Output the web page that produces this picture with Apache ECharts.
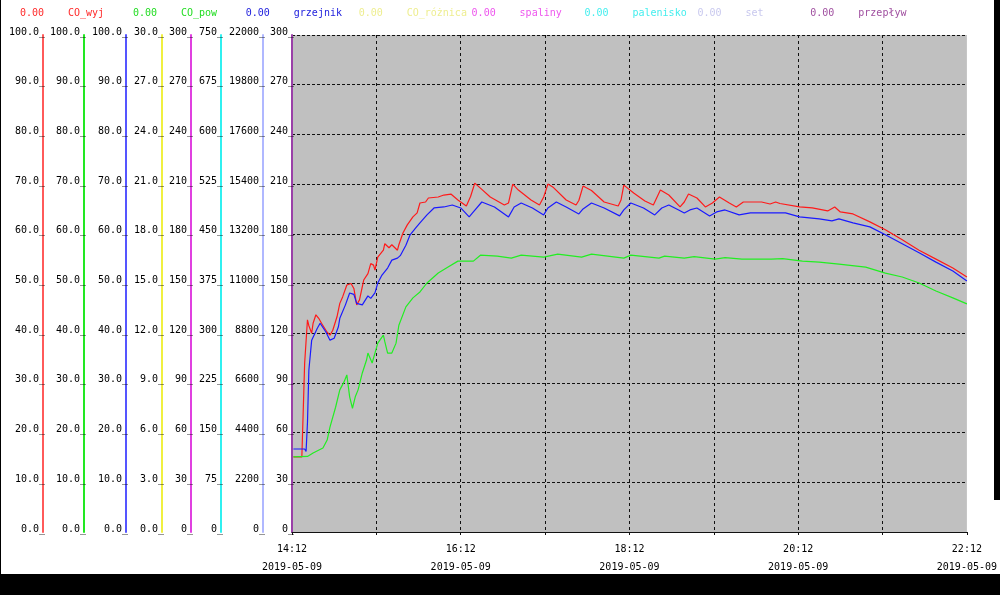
<!DOCTYPE html>
<html>
<head>
<meta charset="utf-8">
<script src="https://cdn.jsdelivr.net/npm/echarts@6/dist/echarts.min.js"></script>
<style>html,body{margin:0;padding:0;background:#fff;}#c{width:1000px;height:595px;}</style>
</head>
<body>
<div id="c"></div>
<script>
// ---- data (x: minutes after 14:12 on 2019-05-09) ----
const xTickLabels = ['14:12', '16:12', '18:12', '20:12', '22:12'];
const dateLabel = '2019-05-09';

const redT = [1,7,8,9,11,12,14,15,17,19,21,25,27,29,32,34,36,39,42,44,46,48,51,54,56,58,59,61,63,65,66,67,69,71,72,75,76,79,82,86,89,91,95,97,104,108,113,118,124,127,130,134,141,151,154,157,161,170,176,179,182,186,195,202,204,207,213,222,232,234,236,243,251,257,259,262,268,276,279,282,288,294,299,304,311,316,321,334,340,344,347,361,370,381,386,390,399,411,422,434,446,458,470,480];
const redV = [15.1,15.1,24.5,34,42.7,41.5,40,42,43.7,43,42,40.2,39.6,40.6,43.3,46,47.3,49.7,50,49,45.7,46.7,50.7,52,54,53.7,52.7,55.3,56,56.7,58,58.4,57.2,57.8,57.5,56.7,57.8,60.2,61.8,63.4,64.2,66.2,66.4,67.2,67.4,67.8,68,66.8,65.6,67.5,70.2,69.2,67.4,65.8,66.2,70,68.8,66.8,65.8,67.4,70,69.3,66.8,65.8,66.7,69.6,68.7,66.4,65.6,66.8,69.8,68.2,66.6,65.8,67,68.8,67.8,65.4,66.4,68,67.2,65.4,66.2,67.4,66.2,65.4,66.4,66.4,66,66.4,66.1,65.4,65.2,64.6,65.4,64.4,64,62.4,60.8,58.8,56.7,54.9,53.1,51.3];

const blueT = [1,9,10,11,12,14,15,18,20,24,27,30,33,34,38,41,44,46,50,54,56,59,61,64,68,71,75,77,81,84,88,91,96,101,108,114,120,126,129,135,144,154,158,163,171,179,182,188,195,204,207,213,222,233,236,241,250,258,263,268,275,279,283,288,297,302,308,318,326,351,361,375,384,389,399,411,422,434,446,458,470,480];
const blueV = [16.7,16.7,16.2,22,32.6,38.6,39,41,42,40.3,38.6,39,41.3,43,45.7,48.1,47.8,46,45.7,47.5,47,48.1,50.1,51.7,53.1,54.7,55.1,55.6,57.7,59.8,61.2,62.2,63.8,65.2,65.4,65.8,65.2,63.4,64.4,66.4,65.4,63.4,65.4,66.2,65.2,63.8,65.2,66.4,65.4,64,65,66.2,65.2,63.6,64.8,66.2,65.2,63.8,65.2,65.8,64.8,64.2,64.8,65.2,63.6,64.4,64.8,63.8,64.2,64.2,63.4,63,62.6,63,62.2,61.4,59.8,58,56.2,54.3,52.5,50.5];

const greenT = [1,11,15,22,25,27,31,34,37,39,41,43,45,47,50,53,54,57,59,61,65,66,68,71,74,76,81,86,91,96,104,111,118,129,134,146,156,163,179,189,206,213,236,241,261,265,279,286,301,308,320,341,349,363,375,389,408,422,434,446,458,470,480];
const greenV = [15.1,15.2,15.9,16.9,18.5,21.1,25.1,28.6,30.2,31.6,27.2,24.9,27.2,28.6,32,34.6,36,34,36,38,39.6,38.3,36,36,38,41.6,45.3,47.1,48.3,50.1,52.1,53.3,54.5,54.5,55.7,55.5,55.1,55.7,55.3,55.9,55.3,55.9,55.1,55.7,55.1,55.5,55.1,55.4,54.9,55.2,54.9,54.9,55,54.5,54.3,53.9,53.3,52.1,51.3,50.1,48.5,47.1,45.9];

const legendNames = ['CO_wyj', 'CO_pow', 'grzejnik', 'CO_różnica', 'spaliny', 'palenisko', 'set', 'przepływ'];
const legendValues = ['0.00', '0.00', '0.00', '0.00', '0.00', '0.00', '0.00', '0.00'];
const axisMax = [100, 100, 100, 30, 300, 750, 22000, 300];
const axisDecimals = [1, 1, 1, 1, 0, 0, 0, 0];

// ---- styles ----
const axisColors = ['#ff5a5a', '#22e822', '#5555ff', '#f0f040', '#e040e0', '#30f0f0', '#b0b8ff', '#9a40a8'];
const legendColors = ['#ff2a2a', '#22dd22', '#2222dd', '#eeee90', '#ee55ee', '#44eeee', '#c8c8ee', '#a050a0'];
const axisOffsets = [249, 208, 166, 130, 101, 71, 29, 0];
const FONT = 'DejaVu Sans Mono';

function zip(t, v) { return t.map((x, i) => [x, v[i]]); }

const yAxes = axisMax.map((mx, i) => ({
  type: 'value', position: 'left', offset: axisOffsets[i],
  min: 0, max: mx, interval: mx / 10,
  axisLine: { show: true, onZero: false, lineStyle: { color: axisColors[i], width: 2 } },
  axisTick: { show: false },
  splitLine: { show: i === 0, showMinLine: false, lineStyle: { color: '#111', type: [3, 2], width: 1 } },
  axisLabel: {
    margin: -2, color: '#000', fontFamily: FONT, fontSize: 10,
    verticalAlign: 'bottom', lineHeight: 6,
    formatter: v => v.toFixed(axisDecimals[i]) + '_'
  }
}));

const legendGraphics = [];
legendNames.forEach((n, i) => {
  const x0 = 20 + i * 112.9;
  legendGraphics.push({ type: 'text', left: x0, top: 8, style: { text: legendValues[i], fill: legendColors[i], font: '10px ' + FONT } });
  legendGraphics.push({ type: 'text', left: x0 + 48, top: 8, style: { text: n, fill: legendColors[i], font: '10px ' + FONT } });
});

const chart = echarts.init(document.getElementById('c'), null, { renderer: 'canvas' });
chart.setOption({
  animation: false,
  backgroundColor: '#fff',
  grid: { left: 292, right: 32, top: 35, bottom: 63, show: true, backgroundColor: '#c0c0c0', borderWidth: 0 },
  xAxis: {
    type: 'value', min: 0, max: 480, interval: 60,
    axisLine: { show: true, onZero: false, lineStyle: { color: '#111', width: 1 } },
    axisTick: { show: true, length: 3, lineStyle: { color: '#111' } },
    splitLine: { show: true, showMinLine: false, showMaxLine: false, lineStyle: { color: '#111', type: [3, 3], width: 1 } },
    axisLabel: {
      customValues: [0, 120, 240, 360, 480],
      margin: 8, color: '#000', fontFamily: FONT, fontSize: 10, lineHeight: 18,
      formatter: v => xTickLabels[Math.round(v / 120)] + '\n' + dateLabel
    }
  },
  yAxis: yAxes,
  series: [
    { name: 'CO_wyj', type: 'line', yAxisIndex: 0, data: zip(redT, redV), showSymbol: false, lineStyle: { color: '#ff1a1a', width: 1.2 }, itemStyle: { color: '#ff1a1a' } },
    { name: 'grzejnik', type: 'line', yAxisIndex: 2, data: zip(blueT, blueV), showSymbol: false, lineStyle: { color: '#1a1aff', width: 1.2 }, itemStyle: { color: '#1a1aff' } },
    { name: 'CO_pow', type: 'line', yAxisIndex: 1, data: zip(greenT, greenV), showSymbol: false, lineStyle: { color: '#22ee22', width: 1.2 }, itemStyle: { color: '#22ee22' } }
  ],
  graphic: legendGraphics.concat([
    { type: 'rect', left: 0, top: 0, shape: { width: 1, height: 595 }, style: { fill: '#000' } },
    { type: 'rect', left: 994, top: 0, shape: { width: 6, height: 500 }, style: { fill: '#000' } },
    { type: 'rect', left: 0, top: 574, shape: { width: 1000, height: 21 }, style: { fill: '#000' } }
  ])
});
</script>
</body>
</html>
